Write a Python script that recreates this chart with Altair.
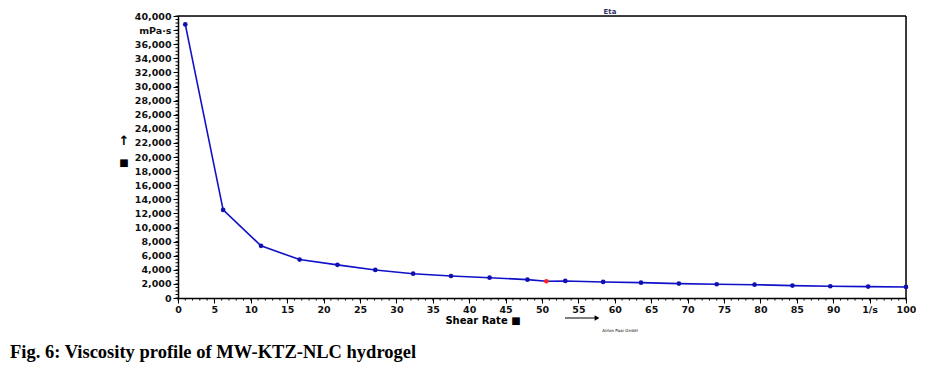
import altair as alt
import pandas as pd

shear_rate = [1.0, 6.2, 11.4, 16.7, 21.9, 27.1, 32.3, 37.5, 42.8, 48.0, 50.6,
              53.2, 58.4, 63.6, 68.8, 74.0, 79.2, 84.4, 89.6, 94.8, 100.0]
eta = [38800, 12500, 7400, 5450, 4700, 3980, 3450, 3120, 2880, 2600, 2380,
       2420, 2280, 2180, 2040, 1950, 1890, 1760, 1670, 1620, 1570]
highlight = [0, 0, 0, 0, 0, 0, 0, 0, 0, 0, 1,
             0, 0, 0, 0, 0, 0, 0, 0, 0, 0]

x_ticks = list(range(0, 101, 5))
x_minor = list(range(0, 101, 1))
y_ticks = list(range(0, 40001, 2000))
y_minor = list(range(0, 40001, 500))

df = pd.DataFrame({"rate": shear_rate, "eta": eta, "hl": highlight})

W, H = 728, 282
FONT = "DejaVu Sans"

xs = alt.Scale(domain=[0, 100], nice=False, zero=False)
ys = alt.Scale(domain=[0, 40000], nice=False)

base = alt.Chart(df)

line = base.mark_line(color="#1010c8", strokeWidth=1.6).encode(
    x=alt.X("rate:Q", scale=xs, title=None,
            axis=alt.Axis(orient="bottom", values=x_ticks,
                          labelExpr="datum.value == 95 ? '1/s' : datum.value",
                          labelFont=FONT, labelFontWeight="bold", labelFontSize=9.5,
                          labelColor="#111", tickSize=5, tickColor="black",
                          domainColor="black", domainWidth=1.5, grid=False,
                          labelPadding=1, labelFlush=False)),
    y=alt.Y("eta:Q", scale=ys, title=None,
            axis=alt.Axis(orient="left", values=y_ticks,
                          labelExpr="datum.value == 38000 ? 'mPa·s' : format(datum.value, ',')",
                          labelFont=FONT, labelFontWeight="bold", labelFontSize=9.5,
                          labelColor="#111", tickSize=5, tickColor="black",
                          domainColor="black", domainWidth=1.5, grid=False,
                          labelPadding=2, labelFlush=False)),
)

# minor ticks drawn through the scales
xminor_df = pd.DataFrame({"v": x_minor})
yminor_df = pd.DataFrame({"v": y_minor})
xminor = alt.Chart(xminor_df).mark_rule(color="black", strokeWidth=1).encode(
    x=alt.X("v:Q", scale=xs, axis=None), y=alt.value(H), y2=alt.value(H + 2.5))
yminor = alt.Chart(yminor_df).mark_rule(color="black", strokeWidth=1).encode(
    y=alt.Y("v:Q", scale=ys, axis=None), x=alt.value(-2.5), x2=alt.value(0))

pts = base.mark_circle(size=22, opacity=1).encode(
    x=alt.X("rate:Q", scale=xs, axis=None),
    y=alt.Y("eta:Q", scale=ys, axis=None),
    color=alt.Color("hl:N", scale=alt.Scale(domain=[0, 1], range=["#1010b0", "#ff2020"]), legend=None),
)

one = pd.DataFrame({"a": [0]})
top_border = alt.Chart(one).mark_rule(color="black", strokeWidth=1.5).encode(
    x=alt.value(0), x2=alt.value(W), y=alt.value(0))
right_border = alt.Chart(one).mark_rule(color="black", strokeWidth=1.5).encode(
    x=alt.value(W), y=alt.value(0), y2=alt.value(H))

def txt(s, x, y, size, **kw):
    return alt.Chart(pd.DataFrame({"t": [s]})).mark_text(
        fontSize=size, font=kw.pop("font", FONT), fontWeight=kw.pop("weight", "bold"),
        color=kw.pop("color", "black"), align=kw.pop("align", "center"),
        baseline="middle", **kw
    ).encode(text="t:N", x=alt.value(x), y=alt.value(y))

eta_t = txt("Eta", 432, -4, 7, color="#333366")
yarrow = txt("↑", -54, 125, 13)
ysq = txt("■", -54, 147, 10)
xtitle = txt("Shear Rate ■", 305, 305, 10)
arrow_line = alt.Chart(one).mark_rule(color="black", strokeWidth=1.2).encode(
    x=alt.value(387), x2=alt.value(420), y=alt.value(302))
arrow_head = alt.Chart(one).mark_point(
    shape="triangle-right", filled=True, color="black", size=30, opacity=1).encode(
    x=alt.value(419), y=alt.value(302))
anton = txt("Anton Paar GmbH", 442, 315, 4, weight="normal")
caption = txt("Fig. 6: Viscosity profile of MW-KTZ-NLC hydrogel", -168, 336, 18.5,
              font="Liberation Serif", align="left")

chart = alt.layer(line, xminor, yminor, top_border, right_border, pts, eta_t, yarrow, ysq,
                  xtitle, arrow_line, arrow_head, anton, caption).resolve_axis(
    x="independent", y="independent"
).properties(
    width=W, height=H,
    autosize=alt.AutoSizeParams(type="none"),
    padding={"left": 170, "top": 8, "right": 10, "bottom": 70},
).configure_view(stroke="black", strokeWidth=1.5).configure(background="white")

chart.save("out.html", embed_options={"renderer": "svg", "actions": False})
